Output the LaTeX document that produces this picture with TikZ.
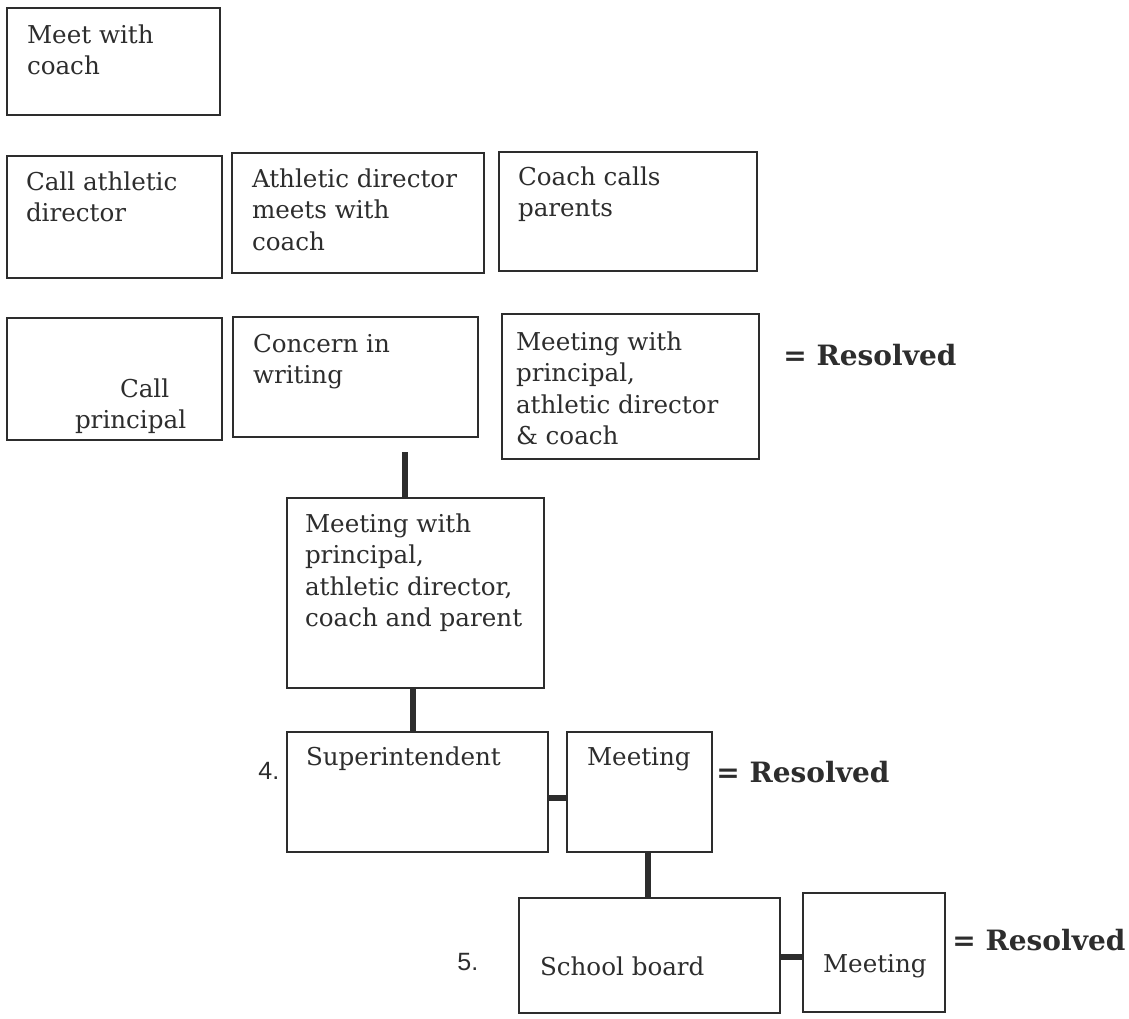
\documentclass[tikz,border=0pt]{standalone}
\usepackage{fontspec}
\setmainfont{DejaVu Serif}
\newfontfamily\numfont{Liberation Sans}
\definecolor{ink}{RGB}{45,45,45}
\newcommand\bodyfont{\fontsize{12.3}{15.75}\selectfont}
\newcommand\resfont{\fontsize{14}{17}\selectfont\bfseries}
\newcommand\mylines[1]{\parbox[t]{160pt}{\raggedright #1}}
\newcommand\bx[5]{\node[box,minimum width={(#4)*0.5pt},minimum height={(#5)*0.5pt}] (#1) at (#2,#3) {};}
\tikzset{
  box/.style={draw=ink, line width=1.2pt, anchor=north west, inner sep=0pt, outer sep=0pt},
  txt/.style={anchor=base west, inner sep=0pt, outer sep=0pt, text=ink, font=\bodyfont},
  num/.style={anchor=base west, inner sep=0pt, text=ink, font=\numfont\fontsize{12.5}{15}\selectfont},
  res/.style={anchor=base west, inner sep=0pt, text=ink, font=\resfont},
  conn/.style={draw=ink, line width=2.8pt}
}
\begin{document}
\begin{tikzpicture}[x=0.5pt,y=-0.5pt]
\useasboundingbox (0,0) rectangle (1129,1018);
% boxes
\bx{b1}{7}{8}{213}{107}
\bx{b2}{7}{156}{215}{122}
\bx{b3}{232}{153}{252}{120}
\bx{b4}{499}{152}{258}{119}
\bx{b5}{7}{318}{215}{122}
\bx{b6}{233}{317}{245}{120}
\bx{b7}{502}{314}{257}{145}
\bx{b8}{287}{498}{257}{190}
\bx{sup}{287}{732}{261}{120}
\bx{m1}{567}{732}{145}{120}
\bx{sb}{519}{898}{261}{115}
\bx{m2}{803}{893}{142}{119}
% texts
\node[txt] (t1) at (27,43) {\mylines{Meet with\\coach}};
\node[txt] (t2) at (26,190) {\mylines{Call athletic\\director}};
\node[txt] (t3) at (252,187) {\mylines{Athletic director\\meets with\\coach}};
\node[txt] (t4) at (518,185) {\mylines{Coach calls\\parents}};
\node[txt] (t5a) at (120,397) {Call};
\node[txt] (t5b) at (75,428) {principal};
\node[txt] (t6) at (253,352) {\mylines{Concern in\\writing}};
\node[txt] (t7) at (516,350) {\mylines{Meeting with\\principal,\\athletic director\\\& coach}};
\node[txt] (t8) at (305,532) {\mylines{Meeting with\\principal,\\athletic director,\\coach and parent}};
\node[txt] (tsup) at (306,765) {Superintendent};
\node[txt] (tm1) at (587,765) {Meeting};
\node[txt] (tsb) at (540,975) {School board};
\node[txt] (tm2) at (823,972) {Meeting};
\node[num] (n4) at (258,779) {4.};
\node[num] (n5) at (457,970) {5.};
\node[res] (r1) at (783,365) {= Resolved};
\node[res] (r2) at (716,782) {= Resolved};
\node[res] (r3) at (952,950) {= Resolved};
% connectors
\coordinate (c1) at (405,452);
\draw[conn] (c1) -- (c1 |- b8.north);
\draw[conn] ([xshift=-1.25pt]b8.south) -- ([xshift=-1.25pt]b8.south |- sup.north);
\draw[conn] ([yshift=-3pt]sup.east) -- ([yshift=-3pt]sup.east -| m1.west);
\draw[conn] ([xshift=4.25pt]m1.south) -- ([xshift=4.25pt]m1.south |- sb.north);
\draw[conn] ([yshift=-0.75pt]sb.east) -- ([yshift=-0.75pt]sb.east -| m2.west);
\end{tikzpicture}
\end{document}
